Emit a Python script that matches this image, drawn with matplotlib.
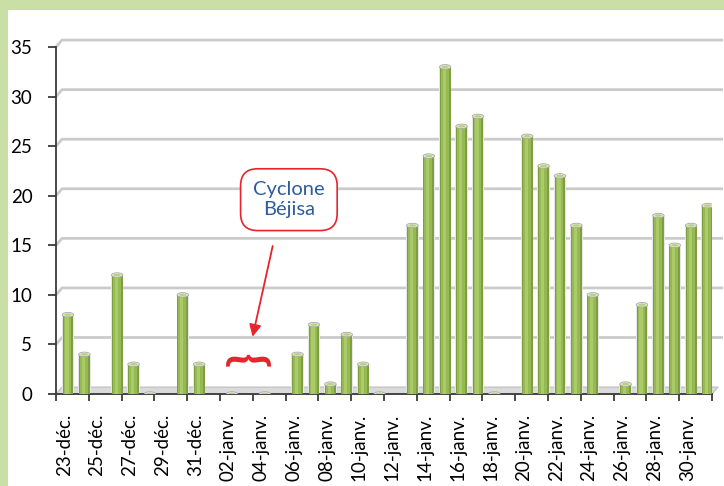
import numpy as np
import matplotlib
matplotlib.use("Agg")
import matplotlib.pyplot as plt
from matplotlib.patches import Ellipse, Polygon, Rectangle

plt.rcParams['font.family'] = ['Lato', 'DejaVu Sans']

# one value per day, 23 Dec -> 31 Jan ; nan = no data, 0 = zero recorded
days = ['23-déc.', '24-déc.', '25-déc.', '26-déc.', '27-déc.', '28-déc.', '29-déc.',
        '30-déc.', '31-déc.', '01-janv.', '02-janv.', '03-janv.', '04-janv.', '05-janv.',
        '06-janv.', '07-janv.', '08-janv.', '09-janv.', '10-janv.', '11-janv.', '12-janv.',
        '13-janv.', '14-janv.', '15-janv.', '16-janv.', '17-janv.', '18-janv.', '19-janv.',
        '20-janv.', '21-janv.', '22-janv.', '23-janv.', '24-janv.', '25-janv.', '26-janv.',
        '27-janv.', '28-janv.', '29-janv.', '30-janv.', '31-janv.']
counts = [8, 4, np.nan, 12, 3, 0, np.nan,
          10, 3, np.nan, 0, np.nan, 0, np.nan,
          4, 7, 1, 6, 3, 0, np.nan,
          17, 24, 33, 27, 28, 0, np.nan,
          26, 23, 22, 17, 10, np.nan, 1,
          9, 18, 15, 17, 19]
yticks = [0, 5, 10, 15, 20, 25, 30, 35]

vals = np.array(counts, dtype=float)
x = np.arange(len(days))
ok = ~np.isnan(vals)

fig = plt.figure(figsize=(7.24, 4.86), dpi=100, facecolor='#c9dfa5')
fig.patches.append(Rectangle((8 / 724, 0), 1, 1 - 10 / 486, transform=fig.transFigure,
                             facecolor='white', edgecolor='none', zorder=-10))
ax = fig.add_axes([56 / 724, 92 / 486, 656 / 724, 347 / 486])
ax.set_facecolor('none')
ax.set_xlim(-0.5, len(days) - 0.5)
ax.set_ylim(0, 35)

# pseudo 3D back wall offsets (data units)
ddx, ddy = 0.37, 0.7
x0, x1 = -0.5, len(days) - 0.5
for v in yticks[1:]:
    ax.plot([x0, x0 + ddx, x1 + ddx + 0.3], [v, v + ddy, v + ddy], color='#cbcbcb',
            lw=2.0, solid_capstyle='butt', clip_on=False, zorder=1)
ax.add_patch(Polygon([(x0, 0), (x1, 0), (x1 + ddx, ddy), (x0 + ddx, ddy)], closed=True,
                     facecolor='#dadada', edgecolor='#bdbdbd', lw=0.8, clip_on=False, zorder=1))

# cylinders
xb = x[ok] + 0.23
vb = vals[ok]
ax.bar(xb, vb, width=0.76, color='#e6e6e6', zorder=2)
ax.bar(xb, vb, width=0.66, color='#7f9f3e', zorder=3)
ax.bar(xb - 0.03, vb, width=0.48, color='#97b955', zorder=4)
ax.bar(xb - 0.06, vb, width=0.2, color='#aacb68', zorder=5)
for xi, vi in zip(xb, vb):
    ax.add_patch(Ellipse((xi, vi), 0.7, 0.45, facecolor='#e3ecd2', edgecolor='#a9a9a9',
                         lw=0.6, zorder=6))
    ax.add_patch(Ellipse((xi, vi), 0.45, 0.25, facecolor='#b9d184', edgecolor='none', zorder=7))

# axes
for s in ['top', 'right']:
    ax.spines[s].set_visible(False)
for s in ['left', 'bottom']:
    ax.spines[s].set_color('#3a3a3a')
    ax.spines[s].set_linewidth(1.3)
ax.set_yticks(yticks)
ax.tick_params(axis='y', direction='out', length=6, width=1.3, color='#3a3a3a',
               labelsize=13.5, pad=11)
ax.set_xticks(np.arange(-0.5, len(days), 2))
ax.set_xticklabels([])
ax.tick_params(axis='x', which='major', direction='out', length=5, width=1.3, color='#3a3a3a')
ax.set_xticks(x[::2], minor=True)
ax.set_xticklabels(days[::2], minor=True, rotation=90, fontsize=13.5)
ax.tick_params(axis='x', which='minor', length=0, pad=14)

# callout
ax.text(13.7, 19.6, 'Cyclone\nBéjisa', ha='center', va='center', fontsize=14.5,
        color='#2d5c9c', linespacing=1.2, zorder=10,
        bbox=dict(boxstyle='round,pad=0.62,rounding_size=0.85', facecolor='white',
                  edgecolor='#e8232b', lw=1.2))
ax.annotate('', xy=(11.45, 5.5), xytext=(12.75, 15.2),
            arrowprops=dict(arrowstyle='-|>', color='#e8232b', lw=1.3, mutation_scale=18),
            zorder=10)
ax.text(11.25, 3.6, '}', rotation=90, ha='center', va='center', fontsize=34,
        color='#e8232b', fontweight='bold', zorder=10)

fig.savefig('out.png', dpi=100, facecolor=fig.get_facecolor())
